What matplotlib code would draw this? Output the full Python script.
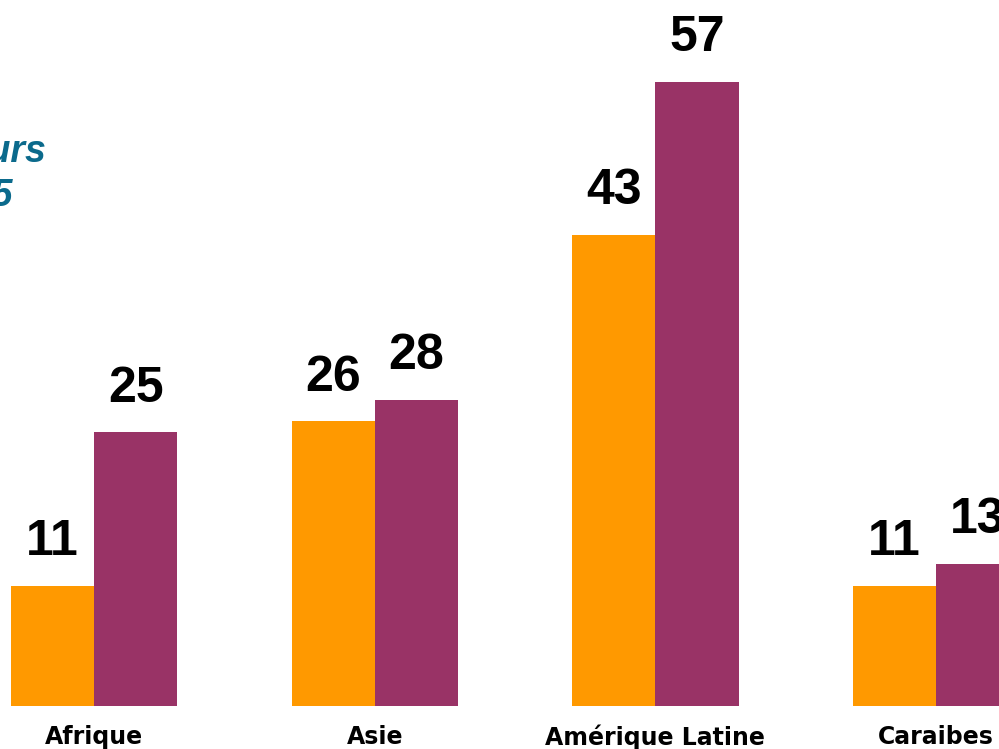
import matplotlib
matplotlib.use("Agg")
import matplotlib.pyplot as plt
import numpy as np

categories = ["Afrique", "Asie", "Amérique Latine", "Caraibes"]
series_a = [11, 26, 43, 11]
series_b = [25, 28, 57, 13]
color_a = "#FF9900"
color_b = "#993366"

fig = plt.figure(figsize=(9.99, 7.49), dpi=100)
ax = fig.add_axes([0, 0, 1, 1])
x = np.arange(len(categories))
w = 0.296
ba = ax.bar(x - w / 2, series_a, width=w, color=color_a)
bb = ax.bar(x + w / 2, series_b, width=w, color=color_b)

for bars, vals in ((ba, series_a), (bb, series_b)):
    for r, v in zip(bars, vals):
        ax.annotate(str(v), (r.get_x() + r.get_width() / 2, v),
                    xytext=(0, 15), textcoords="offset points",
                    ha="center", va="bottom", fontsize=36, fontweight="bold",
                    family="Liberation Sans", color="black")

for xi, c in zip(x, categories):
    ax.annotate(c, (xi, 0), xytext=(0, -22.5), textcoords="offset points",
                ha="center", va="center", fontsize=17, fontweight="bold",
                family="DejaVu Sans", color="black")

ax.set_xlim(-0.335, 3.224)
ax.set_ylim(-3.93, 64.5)
ax.axis("off")

fig.text(46 / 999, 1 - 152 / 749, "Travailleurs", ha="right", va="center",
         fontsize=27, fontweight="bold", style="italic",
         family="Liberation Sans", color="#0B6A8C")
fig.text(13 / 999, 1 - 196 / 749, "2005", ha="right", va="center",
         fontsize=27, fontweight="bold", style="italic",
         family="Liberation Sans", color="#0B6A8C")

fig.savefig("out.png", dpi=100)
